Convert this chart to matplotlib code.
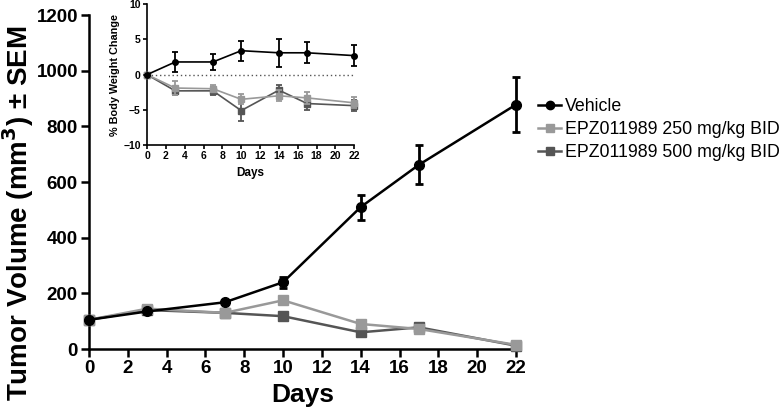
import matplotlib
matplotlib.use("Agg")
import matplotlib.pyplot as plt
from matplotlib.lines import Line2D

plt.rcParams['font.family'] = ['Liberation Sans', 'DejaVu Sans']

days = [0, 3, 7, 10, 14, 17, 22]
labels = ["Vehicle", "EPZ011989 250 mg/kg BID", "EPZ011989 500 mg/kg BID"]
colors = ["#000000", "#999999", "#555555"]
markers = ["o", "s", "s"]

# Tumor volume (mm^3) and SEM
vol_vehicle = [105, 135, 168, 240, 510, 662, 878]
sem_vehicle = [8, 8, 8, 20, 45, 70, 100]
vol_250 = [105, 145, 130, 175, 90, 72, 15]
sem_250 = [6, 10, 8, 10, 10, 8, 4]
vol_500 = [105, 140, 130, 118, 60, 78, 12]
sem_500 = [6, 8, 8, 8, 8, 8, 4]

# % body weight change and SEM
bw_vehicle = [0, 1.8, 1.8, 3.4, 3.1, 3.1, 2.7]
bwsem_vehicle = [0, 1.4, 1.2, 1.4, 2.0, 1.5, 1.5]
bw_250 = [0, -1.9, -2.0, -3.5, -3.0, -3.3, -4.0]
bwsem_250 = [0, 1.0, 0.5, 0.7, 0.8, 0.8, 0.8]
bw_500 = [0, -2.3, -2.3, -5.1, -2.2, -4.1, -4.4]
bwsem_500 = [0, 0.6, 0.6, 1.5, 0.7, 0.9, 0.8]

fig = plt.figure(figsize=(7.82, 4.17), dpi=100)
ax = fig.add_axes([0.1138, 0.163, 0.546, 0.801])

series = [(vol_vehicle, sem_vehicle), (vol_250, sem_250), (vol_500, sem_500)]
order = [2, 1, 0]
for i in order:
    v, s = series[i]
    ax.errorbar(days, v, yerr=s, color=colors[i], marker=markers[i], markersize=7,
                linewidth=1.8, elinewidth=2, capsize=3, capthick=2,
                clip_on=False, zorder=3 + (2 - i))

ax.set_xlim(0, 22)
ax.set_ylim(0, 1200)
ax.set_xticks(range(0, 23, 2))
ax.set_yticks(range(0, 1201, 200))
for sp in ["top", "right"]:
    ax.spines[sp].set_visible(False)
for sp in ["left", "bottom"]:
    ax.spines[sp].set_linewidth(1.8)
ax.tick_params(direction="out", width=1.8, length=6, labelsize=13.5, pad=2)
for t in ax.get_xticklabels() + ax.get_yticklabels():
    t.set_fontweight("bold")
ax.set_xlabel("Days", fontsize=19, fontweight="bold")
ax.set_ylabel("Tumor Volume (mm$^\\mathbf{3}$) ± SEM", fontsize=20, fontweight="bold")
ax.yaxis.set_label_coords(-0.125, 0.405)

handles = [Line2D([], [], color=colors[i], marker=markers[i], markersize=6,
                  linewidth=1.8) for i in range(3)]
fig.legend(handles, labels, loc="upper left",
           bbox_to_anchor=(0.688, 0.765), frameon=False, fontsize=12.8,
           handlelength=1.3, handletextpad=0.2, labelspacing=0.33, borderpad=0,
           borderaxespad=0)

# Inset
ins = fig.add_axes([0.188, 0.652, 0.265, 0.338])
bws = [(bw_vehicle, bwsem_vehicle), (bw_250, bwsem_250), (bw_500, bwsem_500)]
ins.axhline(0, color="#555555", linestyle=(0, (1, 2)), linewidth=1, zorder=1)
for i in order:
    v, s = bws[i]
    ins.errorbar(days, v, yerr=s, color=colors[i], marker=markers[i], markersize=4,
                 linewidth=1.2, elinewidth=1.3, capsize=2, capthick=1.3,
                 clip_on=False, zorder=3 + (2 - i))
ins.set_xlim(0, 22)
ins.set_ylim(-10, 10)
ins.set_xticks(range(0, 23, 2))
ins.set_yticks([-10, -5, 0, 5, 10])
for sp in ["top", "right"]:
    ins.spines[sp].set_visible(False)
for sp in ["left", "bottom"]:
    ins.spines[sp].set_linewidth(1.2)
ins.tick_params(direction="out", width=1.2, length=3, labelsize=7.5, pad=1.5)
for t in ins.get_xticklabels() + ins.get_yticklabels():
    t.set_fontweight("bold")
ins.set_xlabel("Days", fontsize=8.5, fontweight="bold", labelpad=4)
ins.set_ylabel("% Body Weight Change", fontsize=7.8, fontweight="bold", labelpad=2)

fig.savefig("out.png", dpi=100)
